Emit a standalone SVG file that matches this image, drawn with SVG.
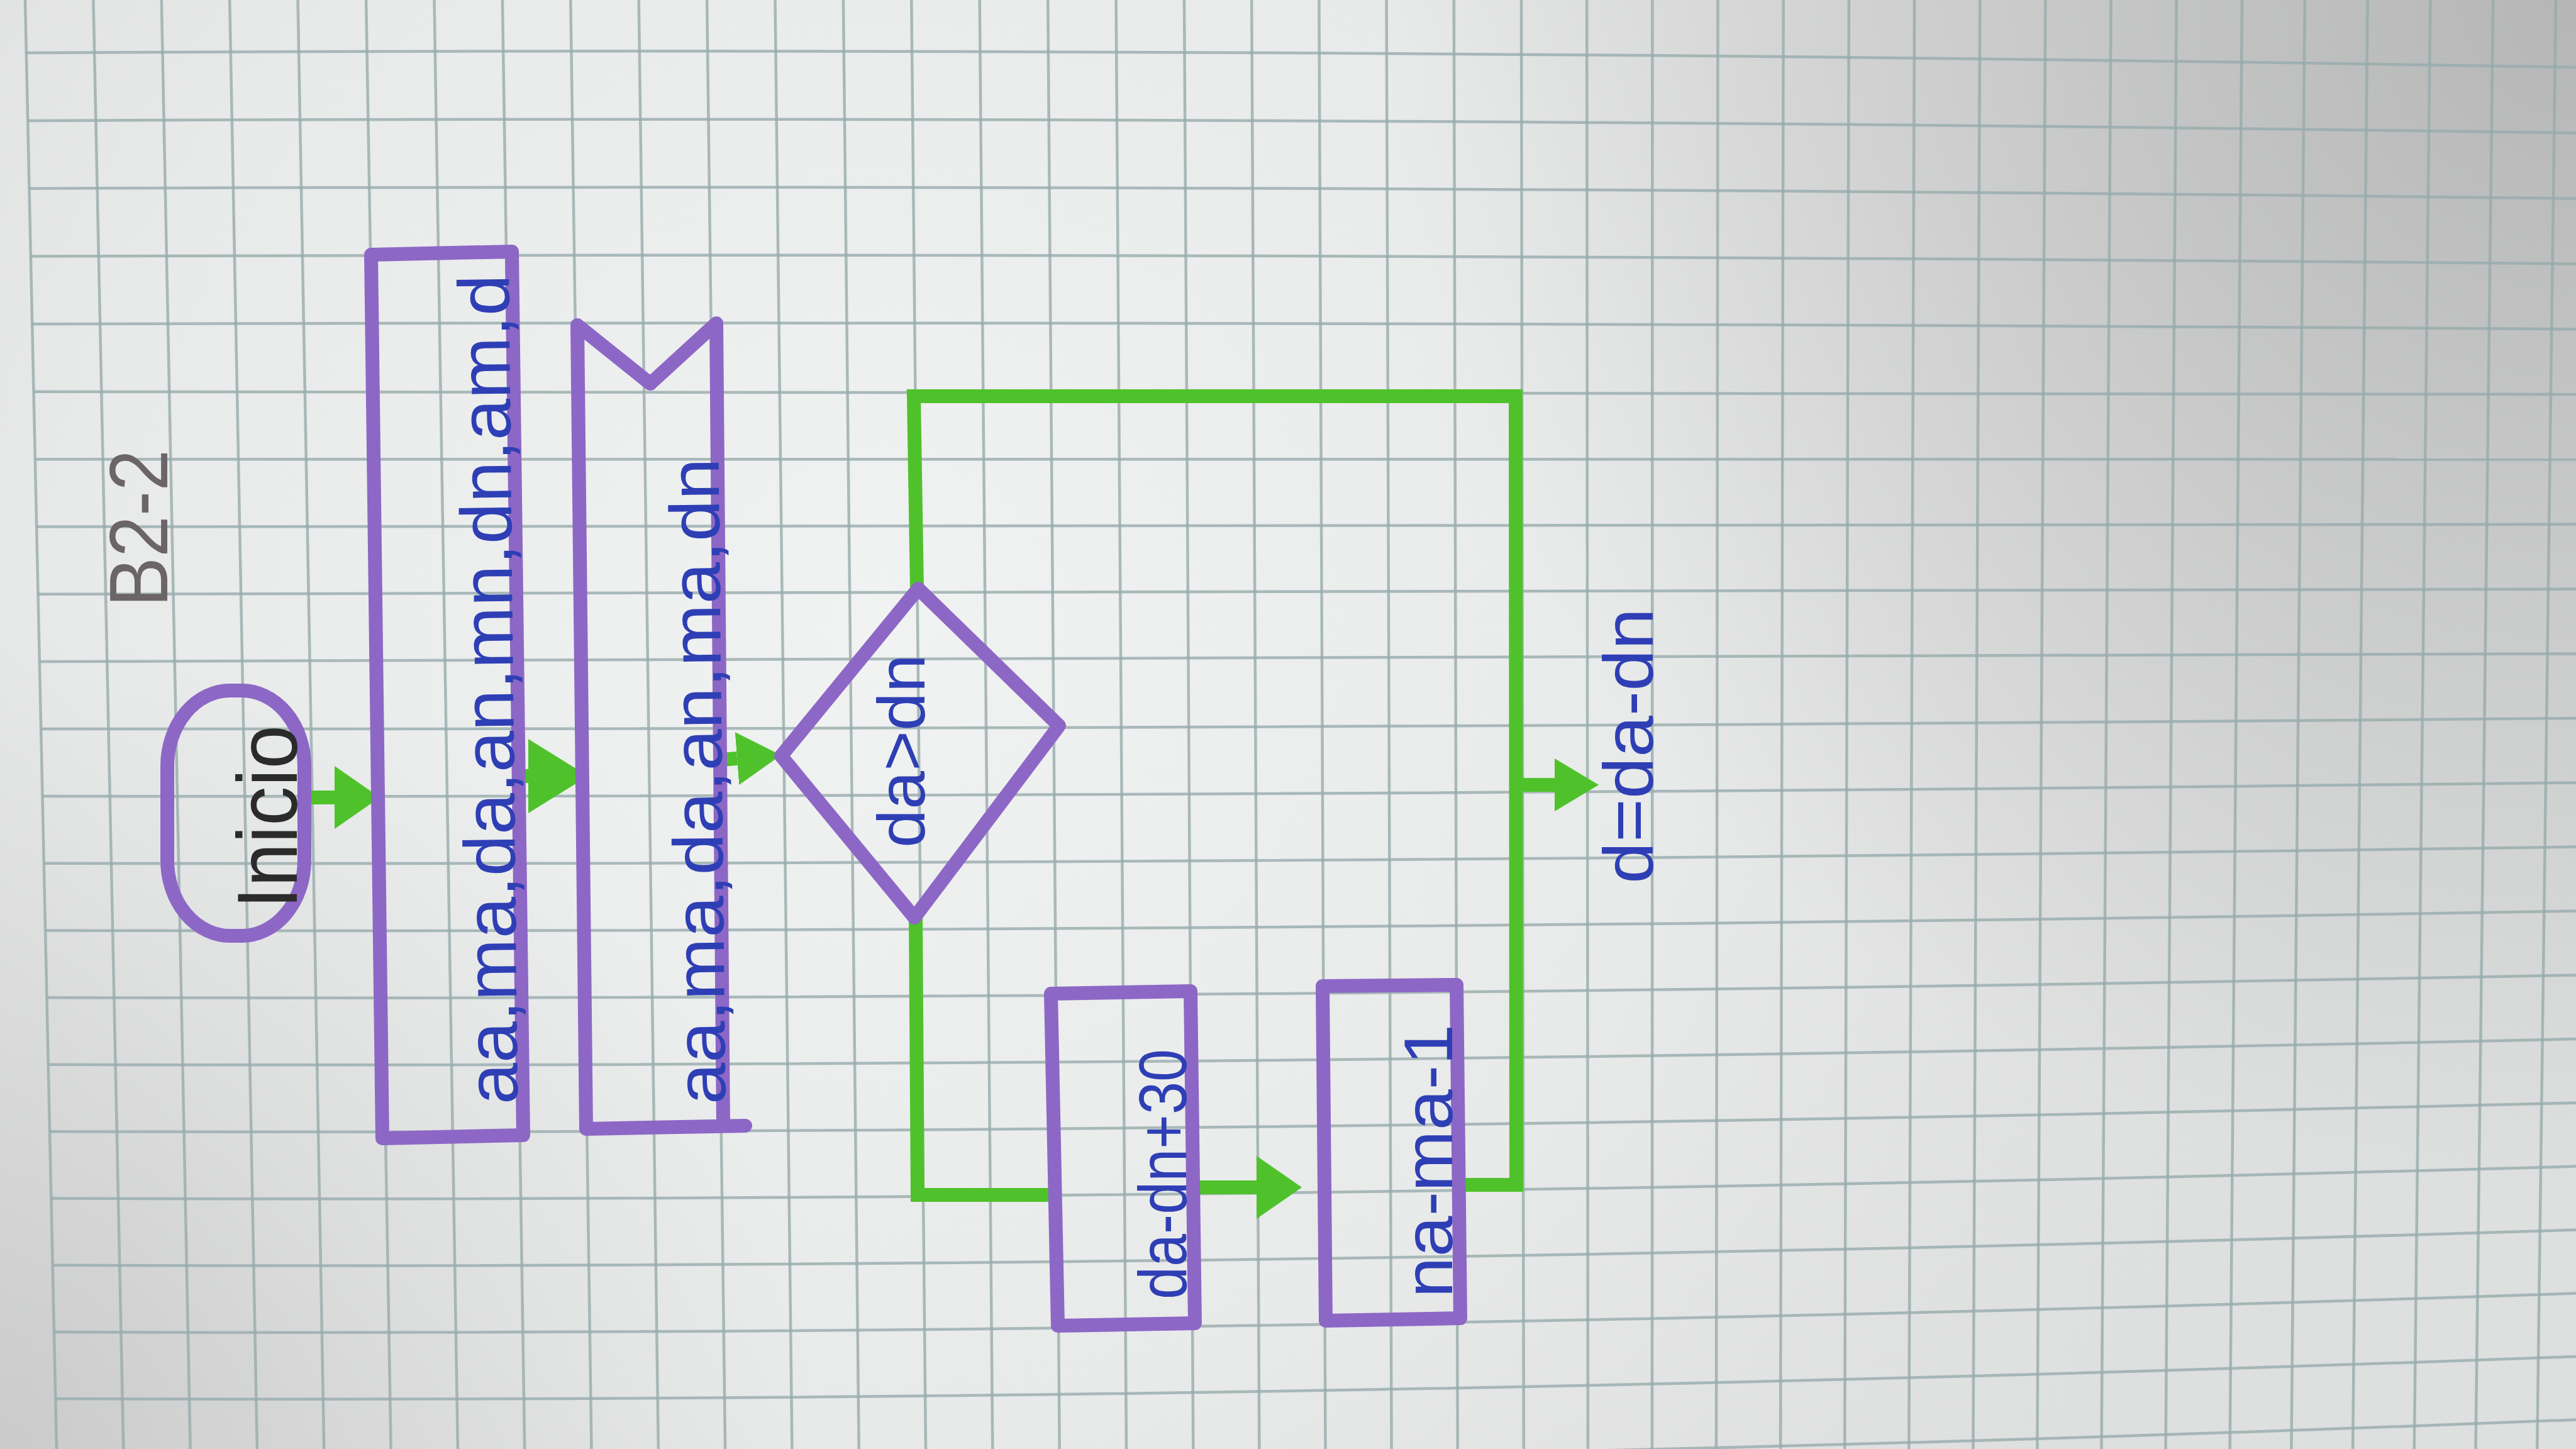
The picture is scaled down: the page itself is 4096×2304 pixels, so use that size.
<svg xmlns="http://www.w3.org/2000/svg" width="4096" height="2304" viewBox="0 0 4096 2304">
<defs>
<radialGradient id="hl" gradientUnits="userSpaceOnUse" cx="1400" cy="1000" r="2300">
<stop offset="0" stop-color="#f1f2f2" stop-opacity="1"/>
<stop offset="0.55" stop-color="#eceded" stop-opacity="0.75"/>
<stop offset="1" stop-color="#e4e4e4" stop-opacity="0"/>
</radialGradient>
<radialGradient id="tr" gradientUnits="userSpaceOnUse" cx="4096" cy="0" r="1900">
<stop offset="0" stop-color="#5e5e5e" stop-opacity="0.32"/>
<stop offset="1" stop-color="#5e5e5e" stop-opacity="0"/>
</radialGradient>
<radialGradient id="bl" gradientUnits="userSpaceOnUse" cx="0" cy="2304" r="1300">
<stop offset="0" stop-color="#7a7a7a" stop-opacity="0.22"/>
<stop offset="1" stop-color="#7a7a7a" stop-opacity="0"/>
</radialGradient>
<marker id="ah" viewBox="0 0 10 10" refX="0" refY="5" markerUnits="userSpaceOnUse" markerWidth="72" markerHeight="100" orient="auto" preserveAspectRatio="none"><path d="M0,0 L10,5 L0,10 Z" fill="#4fc22b"/></marker>
<marker id="ahS" viewBox="0 0 10 10" refX="0" refY="5" markerUnits="userSpaceOnUse" markerWidth="70" markerHeight="84" orient="auto" preserveAspectRatio="none"><path d="M0,0 L10,5 L0,10 Z" fill="#4fc22b"/></marker>
<marker id="ahL" viewBox="0 0 10 10" refX="0" refY="5" markerUnits="userSpaceOnUse" markerWidth="95" markerHeight="118" orient="auto" preserveAspectRatio="none"><path d="M0,0 L10,5 L0,10 Z" fill="#4fc22b"/></marker>
<style>
.grid path{fill:none;stroke:#97abad;stroke-width:4.5;opacity:0.8}
.shape{fill:none;stroke:#8d67c6;stroke-width:22;stroke-linejoin:round;stroke-linecap:round}
.conn{fill:none;stroke:#4fc22b;stroke-width:22;stroke-linejoin:miter;stroke-linecap:butt}
.ink{font-family:"Liberation Sans","DejaVu Sans",sans-serif;fill:#2e3fb5;text-anchor:middle}
.pencil{font-family:"Liberation Sans","DejaVu Sans",sans-serif;text-anchor:middle}
</style>
</defs>
<rect x="0" y="0" width="4096" height="2304" fill="#dedfdf"/>
<rect x="0" y="0" width="4096" height="2304" fill="url(#hl)"/>
<rect x="0" y="0" width="4096" height="2304" fill="url(#tr)"/>
<rect x="0" y="0" width="4096" height="2304" fill="url(#bl)"/>
<g id="grid" class="grid">
<path d="M40,0L90,2304"/><path d="M148.4,0L196.3,2304"/><path d="M256.8,0L302.6,2304"/><path d="M365.2,0L408.9,2304"/><path d="M473.6,0L515.2,2304"/><path d="M582.1,0L621.6,2304"/><path d="M690.5,0L727.9,2304"/><path d="M798.9,0L834.2,2304"/><path d="M907.3,0L940.5,2304"/><path d="M1015.7,0L1046.8,2304"/><path d="M1124.1,0L1153.1,2304"/><path d="M1232.5,0L1259.4,2304"/><path d="M1340.9,0L1365.7,2304"/><path d="M1449.3,0L1472,2304"/><path d="M1557.7,0L1578.3,2304"/><path d="M1666.2,0L1684.7,2304"/><path d="M1774.6,0L1791,2304"/><path d="M1883,0L1897.3,2304"/><path d="M1990.2,0L2002.4,2304"/><path d="M2097.4,0L2107.5,2304"/><path d="M2204.6,0L2212.6,2304"/><path d="M2311.8,0L2317.7,2304"/><path d="M2419,0L2422.8,2304"/><path d="M2523.2,0L2524.9,2304"/><path d="M2627.4,0L2627,2304"/><path d="M2731.5,0L2729,2304"/><path d="M2835.7,0L2831.1,2304"/><path d="M2939.9,0L2933.2,2304"/><path d="M3044.1,0L3035.3,2304"/><path d="M3148.3,0L3137.4,2304"/><path d="M3252.4,0L3239.4,2304"/><path d="M3356.6,0L3341.5,2304"/><path d="M3460.8,0L3443.6,2304"/><path d="M3565,0L3545.7,2304"/><path d="M3664.8,0L3643.4,2304"/><path d="M3764.6,0L3741.1,2304"/><path d="M3864.4,0L3838.8,2304"/><path d="M3964.2,0L3936.5,2304"/><path d="M4064,0L4034.2,2304"/>
<path d="M41.8,84Q2068,73.1 4096,107"/><path d="M44.2,192Q2068,182.5 4096,211.4"/><path d="M46.5,299.8Q2068,291.7 4096,315.6"/><path d="M48.8,407.6Q2068,400.8 4096,419.6"/><path d="M51.2,515.2Q2068,509.7 4096,523.4"/><path d="M53.5,622.8Q2068,618.5 4096,627"/><path d="M55.8,730.2Q2068,727.1 4096,730.4"/><path d="M58.2,837.6Q2068,835.6 4096,833.6"/><path d="M60.5,944.8Q2068,943.9 4096,936.6"/><path d="M62.8,1052Q2068,1052.1 4096,1039.4"/><path d="M65.2,1159Q2068,1160.1 4096,1142"/><path d="M67.5,1266Q2068,1268 4096,1244.4"/><path d="M69.8,1372.8Q2068,1375.7 4096,1346.6"/><path d="M72.1,1479.6Q2068,1483.3 4096,1448.6"/><path d="M74.4,1586.2Q2068,1590.7 4096,1550.4"/><path d="M76.7,1692.8Q2068,1698 4096,1652"/><path d="M79,1799.2Q2068,1805.1 4096,1753.4"/><path d="M81.4,1905.6Q2068,1912.1 4096,1854.6"/><path d="M83.7,2011.8Q2068,2018.9 4096,1955.6"/><path d="M86,2118Q2068,2125.6 4096,2056.4"/><path d="M88.3,2224Q2068,2232.1 4096,2157"/><path d="M90.6,2330Q2068,2338.5 4096,2257.4"/>
</g>
<g id="connectors">
<path class="conn" d="M494,1268 L532,1268" marker-end="url(#ah)"/>
<path class="conn" d="M822,1234 L840,1234" marker-end="url(#ahL)"/>
<path class="conn" d="M1146,1208 L1172,1206" marker-end="url(#ahS)"/>
<path class="conn" d="M1456,1459 L1459,1900 L1677,1900"/>
<path class="conn" d="M1897,1888 L1998,1888" marker-end="url(#ah)"/>
<path class="conn" d="M2316,1884 L2411,1884 L2410,630 L1453,630 L1458,936"/>
<path class="conn" d="M2410,1248 L2472,1248" marker-end="url(#ahS)"/>
</g>
<g id="title">
<text class="pencil" transform="translate(266,840) rotate(-90)" font-size="132" fill="#6b6567" textLength="250" lengthAdjust="spacingAndGlyphs">B2-2</text>
</g>
<g id="start">
<rect class="shape" x="266" y="1098" width="218" height="390" rx="100" ry="120"/>
<text class="pencil" transform="translate(472,1299) rotate(-90)" font-size="135" fill="#2b2b2b" textLength="292" lengthAdjust="spacingAndGlyphs">Inicio</text>
</g>
<g id="process-vars">
<polygon class="shape" points="590,405 814,400 832,1805 608,1810"/>
<text class="ink" transform="translate(816,1096) rotate(-90.6)" font-size="115" textLength="1320" lengthAdjust="spacingAndGlyphs">aa,ma,da,an,mn,dn,am,d</text>
</g>
<g id="input-data">
<path class="shape" d="M1034,610 L918,517 L932,1795 L1185,1790 M1150,1790 L1139,514 L1034,610"/>
<text class="ink" transform="translate(1148,1242) rotate(-90.6)" font-size="112" textLength="1028" lengthAdjust="spacingAndGlyphs">aa,ma,da,an,ma,dn</text>
</g>
<g id="decision">
<polygon class="shape" points="1460,936 1684,1154 1454,1459 1242,1202"/>
<text class="ink" transform="translate(1470,1194) rotate(-90)" font-size="105" textLength="308" lengthAdjust="spacingAndGlyphs">da&gt;dn</text>
</g>
<g id="process-days">
<polygon class="shape" points="1671,1580 1893,1576 1900,2104 1682,2108"/>
<text class="ink" transform="translate(1886,1867) rotate(-90)" font-size="108" textLength="398" lengthAdjust="spacingAndGlyphs">da-dn+30</text>
</g>
<g id="process-months">
<polygon class="shape" points="2103,1568 2316,1566 2322,2096 2108,2100"/>
<text class="ink" transform="translate(2309,1846) rotate(-90)" font-size="110" textLength="435" lengthAdjust="spacingAndGlyphs">na-ma-1</text>
</g>
<g id="result">
<text class="ink" transform="translate(2628,1186) rotate(-90)" font-size="112" textLength="438" lengthAdjust="spacingAndGlyphs">d=da-dn</text>
</g>
</svg>
